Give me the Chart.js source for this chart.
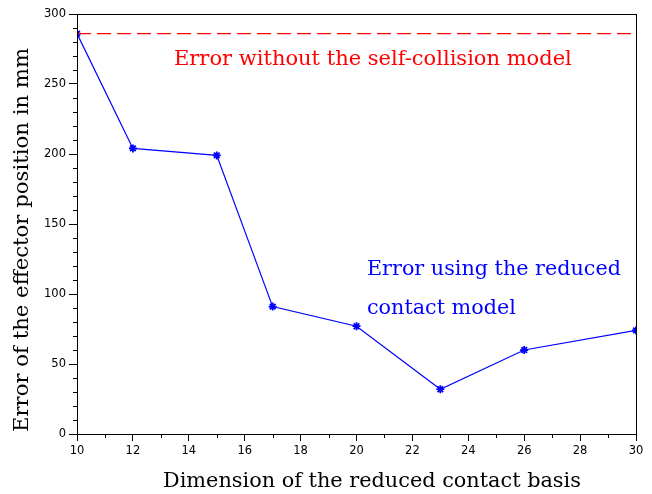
<!DOCTYPE html>
<html><head><meta charset="utf-8">
<script src="https://cdn.jsdelivr.net/npm/chart.js@4/dist/chart.umd.min.js"></script>
<style>html,body{margin:0;padding:0;background:#fff}#wrap{width:652px;height:494px}</style>
</head><body><div id="wrap"><canvas id="c" width="652" height="494"></canvas></div>
<script>
const dims = [10, 12, 15, 17, 20, 23, 26, 30];
const reducedErrors = [286, 204, 199, 91, 77, 32, 60, 74];
const noSelfCollisionError = 286;
const xRange = [10, 30];
const yRange = [0, 300];
const xTitle = 'Dimension of the reduced contact basis';
const yTitle = 'Error of the effector position in mm';
const redLabel = 'Error without the self-collision model';
const blueLabel = ['Error using the reduced', 'contact model'];

const serif = '"DejaVu Serif", "Liberation Serif", serif';
const sans = '"DejaVu Sans", sans-serif';

// pick the font size so that text spans the target width
function drawFitted(ctx, text, x, y, width, rot, refText) {
  ctx.save();
  ctx.font = '20px ' + serif;
  const w = ctx.measureText(refText || text).width;
  const size = 20 * width / w;
  ctx.font = size.toFixed(2) + 'px ' + serif;
  ctx.translate(x, y);
  if (rot) ctx.rotate(rot);
  ctx.textAlign = 'left';
  ctx.textBaseline = 'alphabetic';
  ctx.fillText(text, 0, 0);
  ctx.restore();
}

const decor = {
  id: 'decor',
  afterDraw(chart) {
    const ctx = chart.ctx, a = chart.chartArea;
    const xs = chart.scales.x, ys = chart.scales.y;
    ctx.save();
    ctx.strokeStyle = '#000'; ctx.lineWidth = 1;
    ctx.strokeRect(Math.round(a.left) + 0.5, Math.round(a.top) + 0.5, Math.round(a.right - a.left), Math.round(a.bottom - a.top));
    ctx.beginPath();
    for (let v = xRange[0]; v <= xRange[1]; v += 1) {
      if (v % 2 === 0) continue;
      const px = Math.round(xs.getPixelForValue(v)) + 0.5;
      ctx.moveTo(px, a.bottom); ctx.lineTo(px, a.bottom + 4);
    }
    for (let v = yRange[0]; v <= yRange[1]; v += 10) {
      if (v % 50 === 0) continue;
      const py = Math.round(ys.getPixelForValue(v)) + 0.5;
      ctx.moveTo(a.left, py); ctx.lineTo(a.left - 4, py);
    }
    ctx.stroke();
    ctx.fillStyle = '#000';
    drawFitted(ctx, xTitle, 163, 487, 418, 0);
    drawFitted(ctx, yTitle, 28, 432, 384, -Math.PI / 2);
    ctx.fillStyle = '#ff0000';
    drawFitted(ctx, redLabel, 174, 65, 398, 0);
    ctx.fillStyle = '#0000ff';
    drawFitted(ctx, blueLabel[0], 367, 275, 254, 0);
    drawFitted(ctx, blueLabel[1], 367, 314, 254, 0, blueLabel[0]);
    ctx.restore();
  }
};

new Chart(document.getElementById('c'), {
  type: 'line',
  data: {
    datasets: [
      {
        data: [{x: xRange[0], y: noSelfCollisionError}, {x: xRange[1], y: noSelfCollisionError}],
        borderColor: '#ff0000', borderWidth: 1.4, borderDash: [14, 6],
        pointRadius: 0, fill: false
      },
      {
        data: dims.map((d, i) => ({x: d, y: reducedErrors[i]})),
        borderColor: '#0000ff', backgroundColor: '#0000ff', borderWidth: 1.2,
        pointStyle: 'star', pointRadius: 4, pointBorderWidth: 1.8,
        pointBorderColor: '#0000ff', fill: false, tension: 0
      }
    ]
  },
  options: {
    responsive: false, animation: false,
    layout: {padding: {left: 0, top: 14, right: 16, bottom: 0}},
    plugins: {legend: {display: false}, tooltip: {enabled: false}},
    scales: {
      x: {
        type: 'linear', min: xRange[0], max: xRange[1],
        afterFit(s) { s.height = 60; },
        afterBuildTicks(s) { s.ticks = []; for (let v = xRange[0]; v <= xRange[1]; v += 2) s.ticks.push({value: v}); },
        grid: {drawOnChartArea: false, tickLength: 7, color: '#000'},
        border: {color: '#000', width: 1},
        ticks: {color: '#000', font: {family: sans, size: 11.5}, padding: 3, maxRotation: 0, autoSkip: false}
      },
      y: {
        type: 'linear', min: yRange[0], max: yRange[1],
        afterFit(s) { s.width = 77; },
        afterBuildTicks(s) { s.ticks = []; for (let v = yRange[0]; v <= yRange[1]; v += 50) s.ticks.push({value: v}); },
        grid: {drawOnChartArea: false, tickLength: 8, color: '#000'},
        border: {color: '#000', width: 1},
        ticks: {color: '#000', font: {family: sans, size: 11.5}, padding: 3}
      }
    }
  },
  plugins: [decor]
});
</script>
</body></html>
